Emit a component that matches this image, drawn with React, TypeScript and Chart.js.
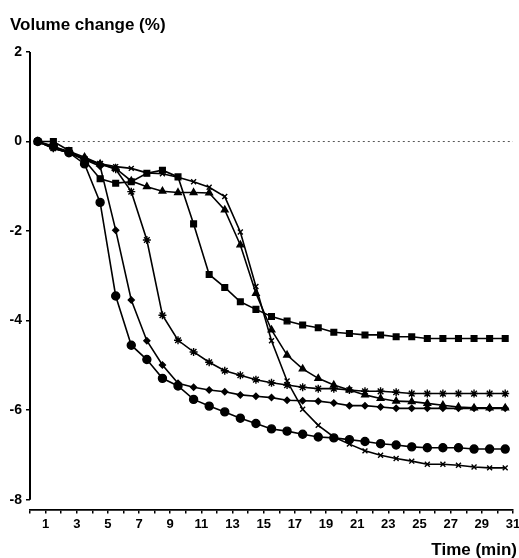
import { useEffect, useRef } from "react";
import { Chart, registerables } from "chart.js";

Chart.register(...registerables);

// Time points (min)
const minutes = [1, 2, 3, 4, 5, 6, 7, 8, 9, 10, 11, 12, 13, 14, 15, 16, 17, 18, 19, 20, 21, 22, 23, 24, 25, 26, 27, 28, 29, 30, 31];
const xTickLabels = [1, 3, 5, 7, 9, 11, 13, 15, 17, 19, 21, 23, 25, 27, 29, 31];
const yTickValues = [2, 0, -2, -4, -6, -8];

// Volume change (%) series
const circles = [0, -0.1, -0.25, -0.5, -1.36, -3.45, -4.55, -4.87, -5.29, -5.46, -5.76, -5.91, -6.04, -6.18, -6.3, -6.42, -6.47, -6.54, -6.6, -6.62, -6.66, -6.7, -6.75, -6.78, -6.82, -6.84, -6.84, -6.84, -6.87, -6.87, -6.87];
const diamonds = [0, -0.15, -0.25, -0.4, -0.55, -1.98, -3.54, -4.45, -4.99, -5.4, -5.49, -5.55, -5.59, -5.66, -5.69, -5.72, -5.78, -5.79, -5.8, -5.84, -5.9, -5.9, -5.93, -5.96, -5.96, -5.96, -5.96, -5.96, -5.96, -5.96, -5.96];
const stars = [0, -0.15, -0.25, -0.4, -0.5, -0.62, -1.12, -2.2, -3.88, -4.44, -4.7, -4.93, -5.12, -5.22, -5.32, -5.39, -5.44, -5.49, -5.52, -5.52, -5.55, -5.58, -5.58, -5.6, -5.63, -5.63, -5.63, -5.63, -5.63, -5.63, -5.63];
const squares = [0, 0, -0.2, -0.42, -0.83, -0.93, -0.9, -0.71, -0.64, -0.79, -1.84, -2.97, -3.26, -3.58, -3.75, -3.91, -4.01, -4.1, -4.16, -4.26, -4.29, -4.32, -4.32, -4.36, -4.36, -4.4, -4.4, -4.4, -4.4, -4.4, -4.4];
const triangles = [0, -0.12, -0.22, -0.35, -0.5, -0.6, -0.88, -1.01, -1.11, -1.14, -1.14, -1.15, -1.53, -2.31, -3.39, -4.21, -4.77, -5.08, -5.29, -5.44, -5.55, -5.66, -5.74, -5.8, -5.81, -5.85, -5.89, -5.93, -5.95, -5.95, -5.95];
const crosses = [0, -0.15, -0.25, -0.38, -0.5, -0.56, -0.6, -0.7, -0.72, -0.8, -0.9, -1.02, -1.23, -2.02, -3.24, -4.45, -5.35, -5.98, -6.34, -6.6, -6.76, -6.91, -7.01, -7.08, -7.14, -7.21, -7.21, -7.23, -7.27, -7.29, -7.29];

const FONT = "'Liberation Sans', Arial, Helvetica, sans-serif";

export default function App() {
  const ref = useRef<HTMLCanvasElement>(null);

  useEffect(() => {
    document.body.style.margin = "0";
    const canvas = ref.current;
    if (!canvas) return;

    const mk = (label: string, values: number[], style: any, radius: number) => ({
      label,
      data: values.map((v, i) => ({ x: minutes[i], y: v })),
      borderColor: "#000",
      backgroundColor: "#000",
      borderWidth: 1.6,
      pointStyle: style,
      pointRadius: radius,
      pointBorderWidth: 1.4,
      pointBackgroundColor: "#000",
      pointBorderColor: "#000",
      tension: 0,
      order: 1,
    });

    const edges = [minutes[0] - 0.5, ...minutes.map((m) => m + 0.5)];
    const lastX = minutes[minutes.length - 1] + 0.5;

    const decor = {
      id: "decor",
      beforeDatasetsDraw(chart: any) {
        const { ctx, chartArea, scales } = chart;
        const y = scales.y;
        ctx.save();
        ctx.strokeStyle = "#000";
        ctx.lineWidth = 2;
        ctx.beginPath();
        ctx.moveTo(chartArea.left, y.getPixelForValue(yTickValues[0]));
        ctx.lineTo(chartArea.left, y.getPixelForValue(yTickValues[yTickValues.length - 1]));
        ctx.stroke();
        ctx.restore();
      },
      afterDraw(chart: any) {
        const { ctx } = chart;
        ctx.save();
        ctx.fillStyle = "#000";
        ctx.font = `bold 17px ${FONT}`;
        ctx.textBaseline = "alphabetic";
        ctx.textAlign = "left";
        ctx.fillText("Volume change (%)", 10, 29.5);
        ctx.textAlign = "right";
        ctx.fillText("Time (min)", 517, 555);
        ctx.restore();
      },
    };

    const chart = new Chart(canvas, {
      type: "line",
      data: {
        datasets: [
          mk("circles", circles, "circle", 4),
          mk("diamonds", diamonds, "rectRot", 3),
          mk("stars", stars, "star", 4),
          mk("squares", squares, "rect", 4),
          mk("triangles", triangles, "triangle", 3.8),
          mk("crosses", crosses, "crossRot", 3.5),
          {
            label: "zero",
            data: [
              { x: minutes[0], y: 0 },
              { x: lastX, y: 0 },
            ],
            borderColor: "#555",
            borderWidth: 1,
            borderDash: [2, 3],
            pointRadius: 0,
            order: 5,
          } as any,
        ],
      },
      plugins: [decor],
      options: {
        responsive: false,
        animation: false,
        devicePixelRatio: 1,
        layout: { padding: { top: 52, right: 6, left: 0, bottom: 0 } },
        plugins: {
          legend: { display: false },
          tooltip: { enabled: false },
          title: { display: false },
        },
        scales: {
          x: {
            type: "linear",
            min: edges[0],
            max: lastX,
            afterBuildTicks: (s: any) => {
              s.ticks = edges.map((v) => ({ value: v }));
            },
            afterFit: (s: any) => {
              s.height = 48.5;
              s.paddingLeft = 0;
              s.paddingRight = 0;
            },
            ticks: {
              autoSkip: false,
              maxRotation: 0,
              minRotation: 0,
              padding: 3,
              color: "#000",
              font: { family: FONT, size: 13, weight: "bold" },
              callback: (value: any) => {
                const m = Math.round(Number(value) - 0.5);
                return xTickLabels.includes(m) ? String(m) : "";
              },
            },
            grid: {
              display: true,
              drawOnChartArea: false,
              drawTicks: true,
              tickLength: 4,
              color: "#000",
              lineWidth: 1.5,
            },
            border: { display: true, color: "#000", width: 1.8 },
          },
          y: {
            type: "linear",
            min: -8.22,
            max: 2,
            afterBuildTicks: (s: any) => {
              s.ticks = yTickValues.map((v) => ({ value: v }));
            },
            afterFit: (s: any) => {
              s.width = 30;
              s.paddingTop = 0;
              s.paddingBottom = 0;
            },
            ticks: {
              padding: 4,
              color: "#000",
              font: { family: FONT, size: 14, weight: "bold" },
              callback: (value: any) => String(value),
            },
            grid: {
              display: true,
              drawOnChartArea: false,
              drawTicks: true,
              tickLength: 4,
              color: "#000",
              lineWidth: 1.5,
            },
            border: { display: false },
          },
        },
      },
    });

    return () => chart.destroy();
  }, []);

  return (
    <div style={{ width: 519, height: 558 }}>
      <canvas ref={ref} width={519} height={558} style={{ display: "block" }} />
    </div>
  );
}
